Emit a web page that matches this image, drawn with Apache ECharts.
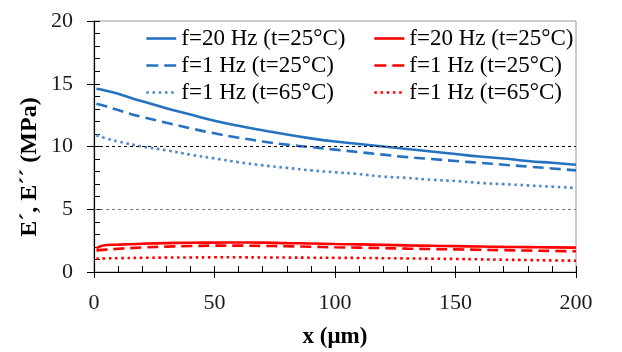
<!DOCTYPE html>
<html>
<head>
<meta charset="utf-8">
<script src="https://cdn.jsdelivr.net/npm/echarts@6/dist/echarts.min.js"></script>
<style>
  html, body { margin: 0; padding: 0; background: #fff; }
  #mychart { width: 622px; height: 352px; }
</style>
</head>
<body>
<div id="mychart"></div>
<script>
var domchart = document.getElementById("mychart");

// x positions (um)
var xs = [1, 5, 10, 20, 30, 40, 50, 60, 70, 80, 90, 100, 110, 120, 130, 140, 150, 160, 170, 180, 190, 200];

// E' (blue)
var blue20_25 = [14.6, 14.45, 14.2, 13.6, 13.05, 12.55, 12.05, 11.65, 11.3, 10.95, 10.65, 10.4, 10.2, 10.0, 9.8, 9.6, 9.4, 9.2, 9.05, 8.85, 8.7, 8.55];
var blue1_25 = [13.4, 13.2, 12.9, 12.35, 11.9, 11.45, 11.05, 10.7, 10.4, 10.15, 9.95, 9.75, 9.55, 9.35, 9.15, 9.0, 8.85, 8.7, 8.55, 8.4, 8.25, 8.1];
var blue1_65 = [10.9, 10.65, 10.4, 10.0, 9.7, 9.35, 9.05, 8.75, 8.5, 8.3, 8.1, 7.95, 7.8, 7.6, 7.5, 7.35, 7.25, 7.1, 7.0, 6.9, 6.8, 6.7];

// E'' (red)
var red20_25 = [1.9, 2.15, 2.18, 2.25, 2.3, 2.33, 2.34, 2.35, 2.34, 2.3, 2.27, 2.23, 2.2, 2.16, 2.12, 2.09, 2.06, 2.03, 2.0, 1.98, 1.96, 1.94];
var red1_25 = [1.72, 1.78, 1.85, 1.95, 2.02, 2.07, 2.1, 2.1, 2.08, 2.05, 2.01, 1.97, 1.94, 1.9, 1.86, 1.83, 1.8, 1.77, 1.74, 1.71, 1.68, 1.65];
var red1_65 = [1.06, 1.08, 1.1, 1.13, 1.15, 1.16, 1.17, 1.17, 1.16, 1.15, 1.14, 1.13, 1.12, 1.1, 1.08, 1.06, 1.04, 1.01, 0.98, 0.95, 0.92, 0.9];

var labels = ['f=20 Hz (t=25°C)', 'f=1 Hz (t=25°C)', 'f=1 Hz (t=65°C)'];
var refLines = [5, 10];

var blue = '#2472C0';
var blueLight = '#4F88C9';
var red = '#FF0000';
var serif = '"Liberation Serif", "Times New Roman", serif';

var dashed = [11, 6];
var dotted = [2.6, 3.6];

function pairs(ys) {
    var out = [];
    for (var i = 0; i < xs.length; i++) out.push([xs[i], ys[i]]);
    return out;
}

var nameMap = {
    b0: labels[0], b1: labels[1], b2: labels[2],
    r0: labels[0], r1: labels[1], r2: labels[2]
};

function mkSeries(name, ys, color, dash) {
    return {
        name: name,
        type: 'line',
        symbol: 'none',
        smooth: true,
        lineStyle: { color: color, width: 2.6, type: dash },
        itemStyle: { color: color },
        data: pairs(ys)
    };
}

var series = [
    mkSeries('b0', blue20_25, blue, 'solid'),
    mkSeries('b1', blue1_25, blue, dashed),
    mkSeries('b2', blue1_65, blueLight, dotted),
    mkSeries('r0', red20_25, red, 'solid'),
    mkSeries('r1', red1_25, red, dashed),
    mkSeries('r2', red1_65, red, dotted)
];

series[0].markLine = {
    silent: true,
    symbol: 'none',
    label: { show: false },
    data: [
        { yAxis: refLines[0], lineStyle: { color: '#777', type: [3, 3], width: 1 } },
        { yAxis: refLines[1], lineStyle: { color: '#000', type: [3, 3], width: 1 } }
    ]
};

function legendItems(prefix, c0, c2) {
    return [
        { name: prefix + '0', lineStyle: { color: c0, type: 'solid', width: 2.6 } },
        { name: prefix + '1', lineStyle: { color: c0, type: [12, 6], width: 2.6 } },
        { name: prefix + '2', lineStyle: { color: c2, type: dotted, width: 2.6 } }
    ];
}

function mkLegend(left, items) {
    return {
        left: left,
        top: 25,
        padding: 0,
        orient: 'vertical',
        itemWidth: 30,
        itemHeight: 14,
        itemGap: 0,
        itemStyle: { opacity: 0 },
        formatter: function (n) { return nameMap[n]; },
        textStyle: { fontFamily: serif, fontSize: 23, lineHeight: 27, color: '#000' },
        data: items
    };
}

var option = {
    animation: false,
    grid: {
        left: 94, right: 46, top: 21, bottom: 80,
        outerBoundsMode: 'none',
        containLabel: false,
        show: true, borderColor: '#999', borderWidth: 1
    },
    legend: [
        mkLegend(145, legendItems('b', blue, blueLight)),
        mkLegend(373, legendItems('r', red, red))
    ],
    xAxis: [{
        type: 'value',
        min: 0, max: 200, interval: 50,
        name: 'x (μm)',
        nameLocation: 'middle',
        nameGap: 54,
        nameTextStyle: { fontFamily: serif, fontSize: 23, fontWeight: 'bold', color: '#000' },
        axisLine: { lineStyle: { color: '#000', width: 1.2 } },
        axisTick: { inside: false, length: 6, lineStyle: { color: '#000' } },
        axisLabel: { fontFamily: serif, fontSize: 22, color: '#1a1a1a', margin: 20 },
        splitLine: { show: false }
    }, {
        type: 'value',
        min: 0, max: 200, interval: 10,
        position: 'bottom',
        axisLine: { show: false },
        axisTick: { inside: true, length: 6, lineStyle: { color: '#000' } },
        axisLabel: { show: false },
        splitLine: { show: false }
    }],
    yAxis: [{
        type: 'value',
        min: 0, max: 20, interval: 5,
        axisLine: { show: true, lineStyle: { color: '#000', width: 1.2 } },
        axisTick: { show: true, inside: false, length: 7, lineStyle: { color: '#000' } },
        axisLabel: { fontFamily: serif, fontSize: 22, color: '#1a1a1a', margin: 21 },
        splitLine: { show: false }
    }, {
        type: 'value',
        min: 0, max: 20, interval: 1,
        position: 'left',
        axisLine: { show: false },
        axisTick: { show: true, inside: true, length: 6, lineStyle: { color: '#000' } },
        axisLabel: { show: false },
        splitLine: { show: false }
    }],
    graphic: [{
        type: 'text',
        x: 30, y: 167,
        rotation: Math.PI / 2,
        style: {
            text: 'E´, E´´ (MPa)',
            fontFamily: serif,
            fontSize: 24,
            fontWeight: 'bold',
            fill: '#000',
            align: 'center',
            verticalAlign: 'middle'
        }
    }],
    series: series
};

var chart = echarts.init(domchart);
chart.setOption(option);
</script>
</body>
</html>
